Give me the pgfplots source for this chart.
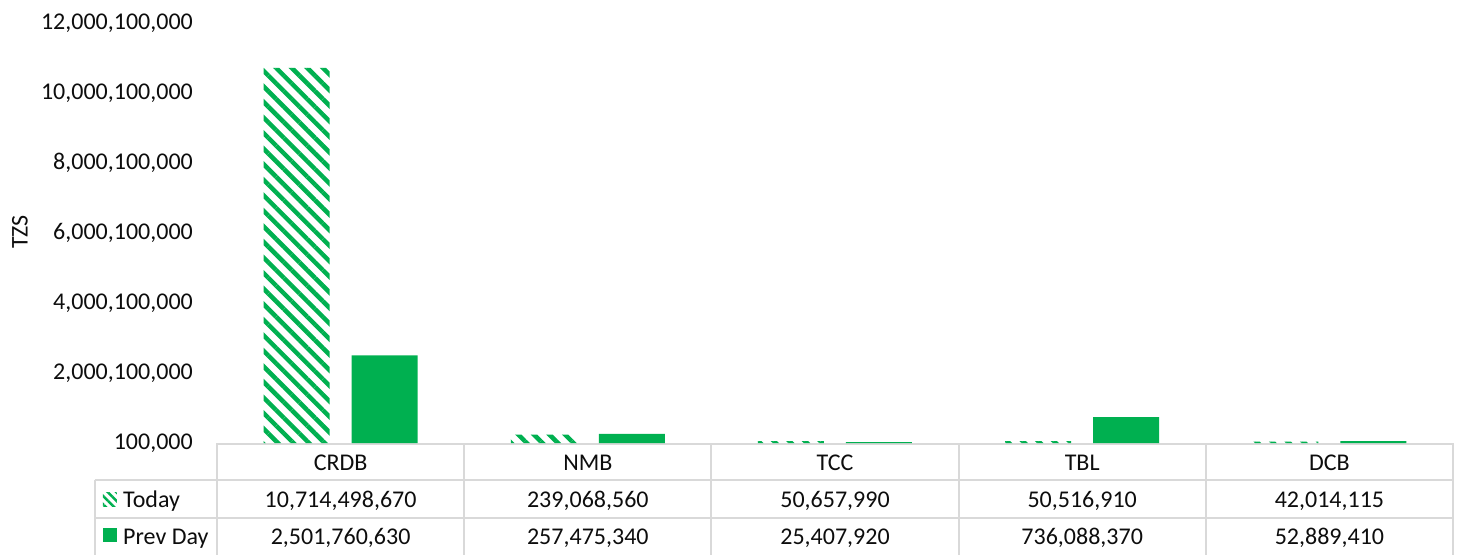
\documentclass[border=0pt]{standalone}
\usepackage{pgfplots}
\pgfplotsset{compat=1.18}
\usetikzlibrary{patterns.meta}
\usepackage{fontspec}
\setmainfont{Carlito}
\definecolor{xgreen}{HTML}{00B050}
\definecolor{xgrid}{HTML}{D9D9D9}
\definecolor{xtext}{HTML}{0D0D0D}
\begin{document}
\fontsize{24}{28}\selectfont
\begin{tikzpicture}[font=\fontsize{24}{28}\selectfont, text=xtext]
\path[use as bounding box] (-217pt,-111pt) rectangle (1246pt,443pt);
\draw[xgrid, line width=2pt] (0pt,-1pt) -- (1236pt,-1pt);
\begin{axis}[
  at={(0,0)}, anchor=south west,
  scale only axis, width=1236pt, height=420pt,
  xmin=-0.5, xmax=4.5, ymin=100000, ymax=12000100000,
  axis line style={draw=none},
  major tick length=0pt,
  xtick=\empty,
  scaled y ticks=false,
  ytick={100000,2000100000,4000100000,6000100000,8000100000,10000100000,12000100000},
  yticklabels={{100,000},{2,000,100,000},{4,000,100,000},{6,000,100,000},{8,000,100,000},{10,000,100,000},{12,000,100,000}},
  yticklabel style={inner sep=0pt, anchor=east, xshift=-24pt, font=\fontsize{24}{28}\selectfont, text=xtext},
  ybar, bar width=66pt,
]
\addplot[draw=none, pattern={Lines[angle=-45,distance=11pt,line width=4.5pt]}, pattern color=xgreen, bar shift=-44pt]
  coordinates {(0,10714498670) (1,239068560) (2,50657990) (3,50516910) (4,42014115)};
\addplot[fill=xgreen, draw=none, bar shift=44pt]
  coordinates {(0,2501760630) (1,257475340) (2,25407920) (3,736088370) (4,52889410)};
\end{axis}
\begin{scope}[x=1pt, y=-1pt, shift={(-217pt,443pt)}]
  \node[rotate=90] at (20,232) {TZS};
  \draw[xgrid, line width=2pt] (95,480) -- (1453,480);
  \draw[xgrid, line width=2pt] (95,518) -- (1453,518);
  \draw[xgrid, line width=2pt] (95,480) -- (95,555);
  \foreach \X in {217,464.2,711.4,958.6,1205.8,1453} {\draw[xgrid, line width=2pt] (\X,443) -- (\X,555);}
  \foreach \X/\C/\A/\B in {340.6/CRDB/{10,714,498,670}/{2,501,760,630},
                           587.8/NMB/{239,068,560}/{257,475,340},
                           835.0/TCC/{50,657,990}/{25,407,920},
                           1082.2/TBL/{50,516,910}/{736,088,370},
                           1329.4/DCB/{42,014,115}/{52,889,410}} {
    \node[anchor=base, inner sep=0pt] at (\X,470) {\C};
    \node[anchor=base, inner sep=0pt] at (\X,507) {\A};
    \node[anchor=base, inner sep=0pt] at (\X,544) {\B};
  }
  \path[pattern={Lines[angle=-45,distance=6pt,line width=2.5pt]}, pattern color=xgreen] (103,492) rectangle (117,506);
  \fill[xgreen] (103,528) rectangle (117,542);
  \node[anchor=base west, inner sep=0pt] at (123,507) {Today};
  \node[anchor=base west, inner sep=0pt] at (123,544) {Prev Day};
\end{scope}
\end{tikzpicture}
\end{document}
